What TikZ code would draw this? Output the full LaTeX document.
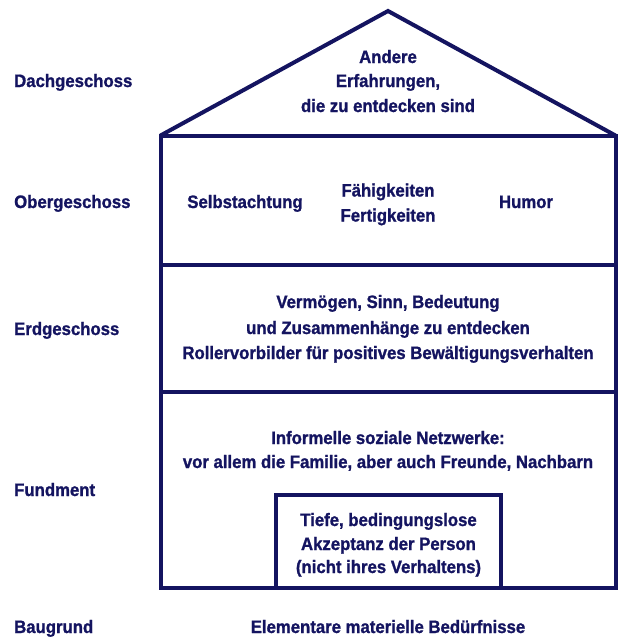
\documentclass[tikz,border=0pt]{standalone}
\usepackage{fontspec}
\setmainfont{Liberation Sans}[FakeStretch=0.93,BoldFeatures={FakeBold=1.2}]
\definecolor{navy}{RGB}{20,20,96}
\begin{document}
\begin{tikzpicture}[x=1pt,y=-1pt,
  wall/.style={draw=navy,line width=4pt,line join=miter},
  txt/.style={inner sep=0pt,anchor=base,text=navy,font=\fontsize{18}{22}\selectfont\bfseries},
  lbl/.style={txt,anchor=base west}]
\useasboundingbox (0,0) rectangle (623,640);
% house outline
\coordinate (bl) at (160.5,135.5);
\coordinate (br) at (615.5,135.5);
\coordinate (apex) at (388,11);
\coordinate (fl) at (160.5,587.5);
\coordinate (fr) at (615.5,587.5);
\draw[wall] (bl) -- (apex) -- (br);
\draw[wall] (bl) rectangle (fr);
\draw[wall] (160.5,264.5) -- (615.5,264.5);
\draw[wall] (160.5,391.5) -- (615.5,391.5);
\draw[wall] (275.5,587.5) |- (501,494.5) -- (501,587.5);
% labels
\node[lbl] (l1) at (14,87) {Dachgeschoss};
\node[lbl] (l2) at (14,208) {Obergeschoss};
\node[lbl] (l3) at (14,335) {Erdgeschoss};
\node[lbl] (l4) at (14,496) {Fundment};
\node[lbl] (l5) at (14,633) {Baugrund};
% roof
\node[txt] (r1) at (388,63) {Andere};
\node[txt] (r2) at (388,87) {Erfahrungen,};
\node[txt] (r3) at (388,112) {die zu entdecken sind};
% upper floor
\node[txt] (o1) at (245,208) {Selbstachtung};
\node[txt] (o2) at (388,196.5) {Fähigkeiten};
\node[txt] (o3) at (388,221.5) {Fertigkeiten};
\node[txt] (o4) at (526,208) {Humor};
% ground floor
\node[txt] (e1) at (388,308) {Vermögen, Sinn, Bedeutung};
\node[txt] (e2) at (388,334) {und Zusammenhänge zu entdecken};
\node[txt] (e3) at (388,359) {Rollervorbilder für positives Bewältigungsverhalten};
% foundation
\node[txt] (f1) at (388,444) {Informelle soziale Netzwerke:};
\node[txt] (f2) at (388,468) {vor allem die Familie, aber auch Freunde, Nachbarn};
\node[txt] (i1) at (388.5,526) {Tiefe, bedingungslose};
\node[txt] (i2) at (388.5,550) {Akzeptanz der Person};
\node[txt] (i3) at (388.5,573) {(nicht ihres Verhaltens)};
% ground
\node[txt] (g1) at (388,633) {Elementare materielle Bedürfnisse};
\end{tikzpicture}
\end{document}
